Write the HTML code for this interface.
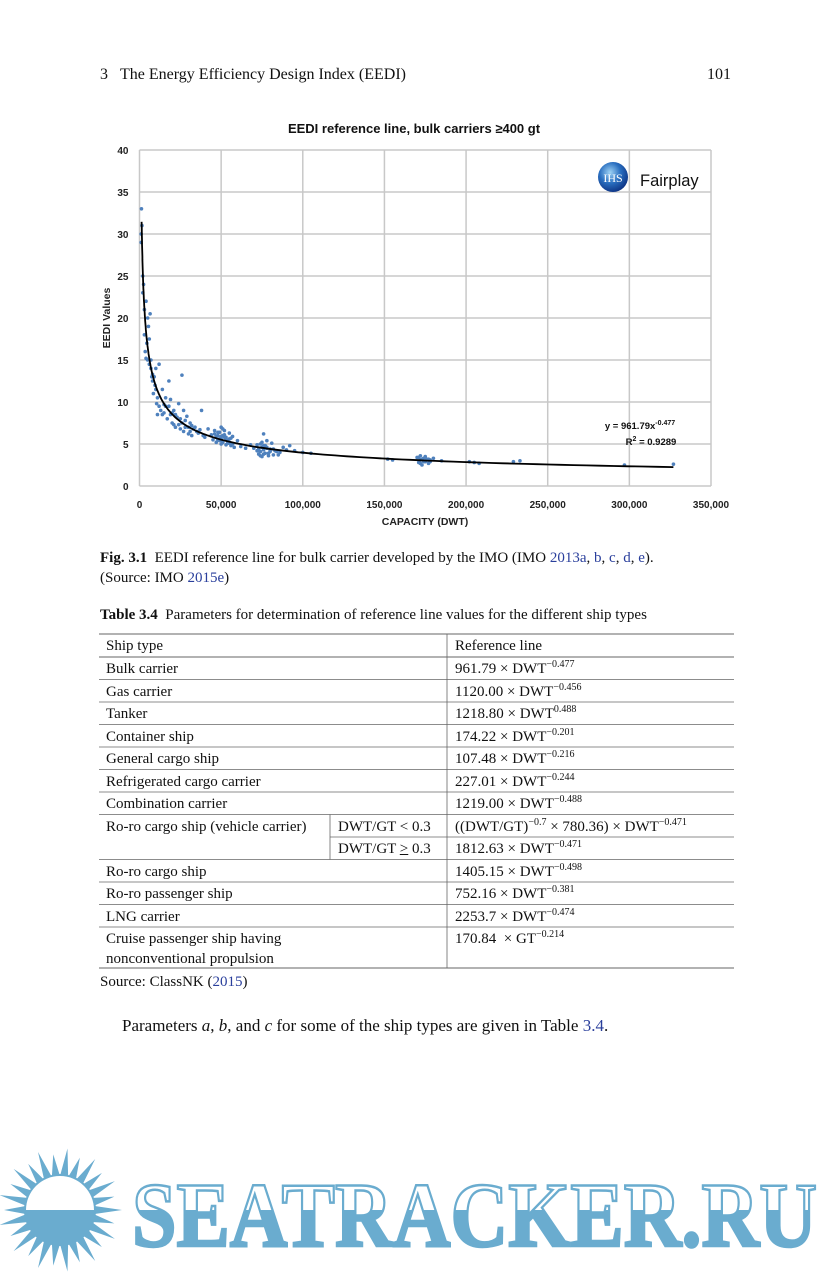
<!DOCTYPE html>
<html><head><meta charset="utf-8">
<style>
body{margin:0;background:#fff;}
#page{position:relative;width:832px;height:1272px;overflow:hidden;background:#fff;font-family:"Liberation Serif",serif;color:#111;}
.t{position:absolute;white-space:nowrap;}
sup{font-size:10px;vertical-align:baseline;position:relative;top:-0.6em;line-height:0;}
.blue{color:#2a3f9c;}
</style></head>
<body>
<div id="page">
<div class="t" style="left:100px;top:66px;font-size:16px;">3&nbsp;&nbsp;&nbsp;The Energy Efficiency Design Index (EEDI)</div>
<div class="t" style="left:707px;top:66px;font-size:16px;">101</div>

<svg id="chart" width="832" height="540" style="position:absolute;left:0;top:0;" xmlns="http://www.w3.org/2000/svg" font-family="Liberation Sans, sans-serif"></svg>

<div class="t" style="left:100px;top:548px;font-size:15px;line-height:20px;"><b>Fig. 3.1</b>&nbsp; EEDI reference line for bulk carrier developed by the IMO (IMO <span class="blue">2013a</span>, <span class="blue">b</span>, <span class="blue">c</span>, <span class="blue">d</span>, <span class="blue">e</span>).<br>(Source: IMO <span class="blue">2015e</span>)</div>

<div class="t" style="left:100px;top:607px;font-size:15px;"><b>Table 3.4</b>&nbsp; Parameters for determination of reference line values for the different ship types</div>

<svg width="832" height="1272" style="position:absolute;left:0;top:0;">
<g id="tl"></g>
</svg>
<div id="tbl" style="position:absolute;left:0;top:0;font-size:15px;"></div>

<div class="t" style="left:100px;top:974px;font-size:15px;">Source: ClassNK (<span class="blue">2015</span>)</div>
<div class="t" style="left:122px;top:1016px;font-size:17px;">Parameters <i>a</i>, <i>b</i>, and <i>c</i> for some of the ship types are given in Table <span class="blue">3.4</span>.</div>

<svg width="832" height="140" style="position:absolute;left:0;top:1140px;">
<defs>
<clipPath id="bot"><rect x="0" y="70" width="832" height="70"/></clipPath>
</defs>
<g id="sun"></g>
<g>
<text x="132" y="106" font-family="Liberation Serif, serif" font-weight="bold" font-size="92" textLength="685" lengthAdjust="spacingAndGlyphs" fill="#fff" stroke="#6aaccf" stroke-width="2.5">SEATRACKER.RU</text>
<text x="132" y="106" font-family="Liberation Serif, serif" font-weight="bold" font-size="92" textLength="685" lengthAdjust="spacingAndGlyphs" fill="#6aaccf" clip-path="url(#bot)">SEATRACKER.RU</text>
</g>
</svg>
</div>

<script>
// ---- chart data ----
const xTicks = [0,50000,100000,150000,200000,250000,300000,350000];
const yTicks = [0,5,10,15,20,25,30,35,40];
const fitA = 961.79;
const fitB = -0.477;
const dwtK = [
 1,1,1.2,1.5,2,2,2.5,3,3,3.5,
 4,4,4.5,5,5,5.5,6,6,6.5,7,
 7,7.5,8,8,8.5,9,9.5,10,10,10.5,
 11,11,12,12,13,14,14,15,15,16,
 16,17,18,18,19,19,20,20,21,21,
 22,22,23,24,24,25,25,26,26,27,
 27,28,28,29,30,30,31,31,32,32,
 33,34,35,36,37,38,39,40,42,44,
 45,46,47,48,48,49,49,50,50,51,
 51,52,52,53,53,54,55,55,56,57,
 58,60,62,65,68,46,47,48,49,50,
 50,51,51,52,53,54,55,56,57,54,
 70,72,73,74,74,75,75,76,76,77,
 77,78,79,80,82,84,85,86,88,90,
 92,95,100,105,72,73,74,75,76,77,
 78,79,80,81,83,74,76,78,80,82,
 152,155,170,171,172,172,173,174,175,175,
 176,177,178,180,185,202,205,208,229,233,
 297,327,171,172,173,174,175,176,177,178];
const eedi = [
 30,29,33,31,25,23,24,18,21,16,
 22,15.2,17,20,15,19,17.5,14.5,20.5,15,
 14,13,12.5,13.3,11,13,12,14,11.5,9.8,
 8.5,10.5,9.5,14.5,9,8.5,11.5,9.7,8.7,9.5,
 10.5,8,12.5,9.5,8.5,10.3,8.7,7.5,7.3,9,
 8.5,7,8.2,9.8,7.3,8,6.8,13.2,7.5,9,
 6.5,7.8,7,8.3,7,6.2,7.5,6.5,7.2,6,
 6.8,7,6.5,6.3,6.7,9,6,5.8,6.8,6.1,
 5.5,6.2,5.2,6,5.5,6.4,5.6,7,5,6,
 5.2,6.6,5.8,4.9,5.5,5.3,5.1,6.3,5.7,5,
 4.6,5.4,4.7,4.5,4.9,6.6,5.9,6.4,5.4,5.9,
 5.6,6.8,5.3,6.1,5.8,5.1,5.6,4.8,5.9,5.4,
 4.5,4.2,3.8,4.1,5,3.5,4.6,6.2,4.3,3.9,
 4.8,4.5,3.6,4.2,4.4,4.1,3.7,4,4.6,4.3,
 4.8,4.2,4,3.9,4.9,4.4,4.1,5.2,3.8,4.7,
 4.6,3.9,4.4,5.1,4.2,3.6,4.8,5.4,4.1,3.7,
 3.2,3.1,3.4,2.8,3.6,3.1,2.5,3.3,2.9,3.5,
 3.2,2.7,3.1,3.3,3,2.9,2.8,2.7,2.9,3,
 2.5,2.6,3.4,2.7,3.2,2.9,3.4,3.1,3.2,2.9];

const svg = document.getElementById('chart');
const NS = 'http://www.w3.org/2000/svg';
const X0=139.5, X1=711, Y0=486, Y1=150;
function xs(v){return X0+(v-0)/(350000)*(X1-X0);}
function ys(v){return Y0-(v/40)*(Y0-Y1);}
function mk(tag, attrs, parent){const e=document.createElementNS(NS,tag);for(const k in attrs)e.setAttribute(k,attrs[k]);(parent||svg).appendChild(e);return e;}

const title = mk('text',{x:414,y:133,'text-anchor':'middle','font-size':13,'font-weight':'bold',fill:'#111'});


title.textContent='EEDI reference line, bulk carriers \u2265400 gt';

const grid = mk('g',{});


yTicks.forEach(v=>{
  const l=mk('line',{x1:X0,x2:X1,y1:ys(v),y2:ys(v),stroke:'#c8c8c8','stroke-width':1.5},grid);
  
  
  const t=mk('text',{x:X0-11,y:ys(v)+4,'text-anchor':'end','font-size':10,'font-weight':'bold',fill:'#222'});
  
  
  t.textContent=v;
});
xTicks.forEach(v=>{
  const l=mk('line',{x1:xs(v),x2:xs(v),y1:Y1,y2:Y0,stroke:'#c8c8c8','stroke-width':1.5},grid);
  
  
  const t=mk('text',{x:xs(v),y:Y0+22,'text-anchor':'middle','font-size':10,'font-weight':'bold',fill:'#222'});
  
  
  t.textContent=v.toLocaleString('en-US');
});
const xt=mk('text',{x:425,y:525,'text-anchor':'middle','font-size':10.5,'font-weight':'bold',fill:'#222'});


xt.textContent='CAPACITY (DWT)';
const yt=mk('text',{x:0,y:0,'text-anchor':'middle','font-size':10.5,'font-weight':'bold',fill:'#222',transform:'translate(110,318) rotate(-90)'});


yt.textContent='EEDI Values';

const pts = mk('g',{fill:'#4f81bd'});


dwtK.forEach((d,i)=>{
  const c=mk('circle',{cx:xs(d*1000),cy:ys(eedi[i]),r:1.8},pts);
  
  
});

let dstr='';
for(let d=1300; d<=327000; d*= 1.03){const y=fitA*Math.pow(d,fitB); dstr+=(dstr?'L':'M')+xs(d).toFixed(1)+','+ys(y).toFixed(1);}
dstr+='L'+xs(327000).toFixed(1)+','+ys(fitA*Math.pow(327000,fitB)).toFixed(1);
const fit=mk('path',{d:dstr,fill:'none',stroke:'#000','stroke-width':1.8});



const eq=mk('text',{x:640,y:429,'text-anchor':'middle','font-size':9.5,'font-weight':'bold',fill:'#111'});


eq.innerHTML='y = 961.79x<tspan dy="-4" font-size="7">-0.477</tspan>';
const r2=mk('text',{x:651,y:445,'text-anchor':'middle','font-size':9.5,'font-weight':'bold',fill:'#111'});


r2.innerHTML='R<tspan dy="-4" font-size="7">2</tspan><tspan dy="4"> = 0.9289</tspan>';

const logo=mk('g',{});


mk('defs',{},logo).innerHTML='<radialGradient id="rg" cx="0.4" cy="0.35" r="0.7"><stop offset="0" stop-color="#9fd3f5"/><stop offset="0.5" stop-color="#2a6fc0"/><stop offset="1" stop-color="#0b2f80"/></radialGradient>';
mk('circle',{cx:613,cy:177,r:15,fill:'url(#rg)'},logo);
const ihs=mk('text',{x:613,y:182,'text-anchor':'middle','font-size':12,fill:'#fff','font-family':'Liberation Serif, serif'},logo);
ihs.textContent='IHS';
const fp=mk('text',{x:640,y:186,'font-size':16.5,fill:'#111'},logo);
fp.textContent='Fairplay';

// ---- table ----
const rows = [
 ['Bulk carrier','','961.79 × DWT<sup>−0.477</sup>'],
 ['Gas carrier','','1120.00 × DWT<sup>−0.456</sup>'],
 ['Tanker','','1218.80 × DWT<sup>0.488</sup>'],
 ['Container ship','','174.22 × DWT<sup>−0.201</sup>'],
 ['General cargo ship','','107.48 × DWT<sup>−0.216</sup>'],
 ['Refrigerated cargo carrier','','227.01 × DWT<sup>−0.244</sup>'],
 ['Combination carrier','','1219.00 × DWT<sup>−0.488</sup>'],
 ['Ro-ro cargo ship (vehicle carrier)','DWT/GT &lt; 0.3','((DWT/GT)<sup>−0.7</sup> × 780.36) × DWT<sup>−0.471</sup>'],
 ['','DWT/GT <u>&gt;</u> 0.3','1812.63 × DWT<sup>−0.471</sup>'],
 ['Ro-ro cargo ship','','1405.15 × DWT<sup>−0.498</sup>'],
 ['Ro-ro passenger ship','','752.16 × DWT<sup>−0.381</sup>'],
 ['LNG carrier','','2253.7 × DWT<sup>−0.474</sup>'],
 ['Cruise passenger ship having<br>nonconventional propulsion','','170.84&nbsp; × GT<sup>−0.214</sup>']
];
const tbl=document.getElementById('tbl');
const tl=document.getElementById('tl');
function hline(y,x1,x2,w){const l=document.createElementNS(NS,'line');l.setAttribute('x1',x1);l.setAttribute('x2',x2);l.setAttribute('y1',y);l.setAttribute('y2',y);l.setAttribute('stroke','#666');l.setAttribute('stroke-width',w||0.8);tl.appendChild(l);}
function vline(x,y1,y2){const l=document.createElementNS(NS,'line');l.setAttribute('x1',x);l.setAttribute('x2',x);l.setAttribute('y1',y1);l.setAttribute('y2',y2);l.setAttribute('stroke','#666');l.setAttribute('stroke-width',0.8);tl.appendChild(l);}
function cell(x,y,html,name){const d=document.createElement('div');d.className='t';d.style.left=x+'px';d.style.top=y+'px';d.style.lineHeight='20px';d.innerHTML=html;tbl.appendChild(d);}
hline(634,99,734,1);
hline(657,99,734,1);
cell(106,636,'Ship type','header-ship-type');
cell(455,636,'Reference line','header-reference-line');
let y=657;
const rh=22.5;
let roroTop=0;
rows.forEach((r,i)=>{
  const h = i===rows.length-1 ? 41 : rh;
  if(i===7) roroTop=y;
  if(r[0]) cell(106,y+2,r[0],'ship-type-cell');
  if(r[1]) cell(338,y+2,r[1],'condition-cell');
  cell(455,y+2,r[2],'reference-line-cell');
  y+=h;
  if(i===7) hline(y,330,734); else hline(y,99,734, i===rows.length-1?1:0.8);
});
vline(447,634,968);
vline(330,roroTop,roroTop+2*rh);

// sun
const sun=document.getElementById('sun');
const cx=60, cy=70;
let pd='';
const n=26;
for(let k=0;k<n;k++){
  const a=k/n*2*Math.PI, a1=(k-0.5)/n*2*Math.PI, a2=(k+0.5)/n*2*Math.PI;
  const R=k%2?56:62, r0=34;
  pd+=`M${cx+r0*Math.cos(a1)},${cy+r0*Math.sin(a1)}L${cx+R*Math.cos(a)},${cy+R*Math.sin(a)}L${cx+r0*Math.cos(a2)},${cy+r0*Math.sin(a2)}Z`;
}
sun.innerHTML=`<path d="${pd}" fill="#6aaccf"/><circle cx="${cx}" cy="${cy}" r="36" fill="#6aaccf"/><path d="M${cx-34},${cy} A34,34 0 0 1 ${cx+34},${cy} Z" fill="#fff"/>`;
</script>
</body></html>
